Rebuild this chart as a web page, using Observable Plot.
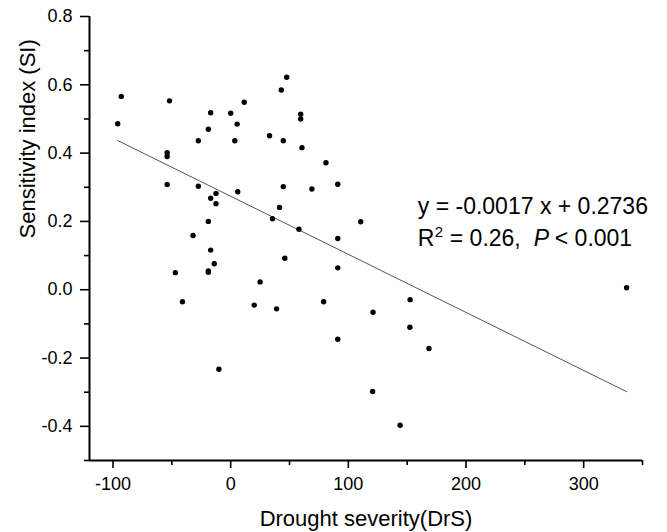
<!DOCTYPE html>
<html><head><meta charset="utf-8">
<script src="https://cdn.jsdelivr.net/npm/d3@7"></script>
<script src="https://cdn.jsdelivr.net/npm/@observablehq/plot@0.6"></script>
<style>body{margin:0;background:#fff}</style>
</head><body><div id="chart"></div>
<script>
const drs = [-96,-93,-52,-54,-54,-54,-47,-41,-32,-27.5,-27.5,-19,-17,-12.5,-17,-12.5,-19,-17,-14,-19,-19,-10,
  0,3.5,5.5,6,11.5,20,25,33,35.5,39,41.5,43,44.7,44.7,46,47.6,58,59.5,59.5,60.6,69,79,81,
  91,91,91,91,110.5,121,120.6,144,152.5,152.3,168.5,336.5];
const si = [0.486,0.566,0.553,0.401,0.390,0.308,0.050,-0.035,0.159,0.436,0.303,0.470,0.518,0.282,0.268,0.252,0.200,0.116,0.076,0.055,0.051,-0.233,
  0.517,0.436,0.485,0.287,0.549,-0.045,0.023,0.451,0.208,-0.056,0.241,0.585,0.436,0.302,0.092,0.622,0.177,0.514,0.500,0.416,0.295,-0.035,0.372,
  0.309,0.150,0.064,-0.145,0.199,-0.066,-0.298,-0.397,-0.029,-0.110,-0.172,0.006];
const slope = -0.0017, intercept = 0.2736;
const xMajor = [-100, 0, 100, 200, 300];
const xMinor = [-50, 50, 150, 250, 350];
const yMajor = [-0.4, -0.2, 0.0, 0.2, 0.4, 0.6, 0.8];
const yMinor = [-0.5, -0.3, -0.1, 0.1, 0.3, 0.5, 0.7];
const xLabel = "Drought severity(DrS)";
const yLabel = "Sensitivity index (SI)";
const eqText = "y = -0.0017 x + 0.2736";

const points = drs.map((x, i) => ({x, y: si[i]}));
const xMin = d3.min(drs), xMax = d3.max(drs);
const fit = [xMin, xMax].map(x => ({x, y: slope * x + intercept}));
const font = "'Liberation Sans', Arial, sans-serif";
const annX = 159, annY1 = 0.222, annY2 = 0.1287;
const ann = (txt, dx, extra = {}) => Plot.text([txt], {x: annX, y: annY2, dx, text: d => d, textAnchor: "start", lineAnchor: "bottom", fontSize: 23, fill: "#000", ...extra});

const chart = Plot.plot({
  width: 667, height: 532,
  marginLeft: 89, marginRight: 25, marginTop: 16, marginBottom: 72,
  style: {fontFamily: font, background: "#fff", color: "#000"},
  x: {domain: [-120, 350]},
  y: {domain: [-0.5, 0.8]},
  marks: [
    Plot.axisX({ticks: xMajor, tickSize: 8, tickPadding: 9, fontSize: 18, strokeWidth: 1.6, tickFormat: d => String(d), label: null}),
    Plot.axisX({ticks: xMinor, tickSize: 5, strokeWidth: 1.6, tickFormat: () => "", label: null}),
    Plot.axisY({ticks: yMajor, tickSize: 9, tickPadding: 8, fontSize: 18, strokeWidth: 1.6, tickFormat: d => d.toFixed(1), label: null}),
    Plot.axisY({ticks: yMinor, tickSize: 5, strokeWidth: 1.6, tickFormat: () => "", label: null}),
    Plot.ruleX([-120], {stroke: "#000", strokeWidth: 2}),
    Plot.ruleY([-0.5], {stroke: "#000", strokeWidth: 2}),
    Plot.line(fit, {x: "x", y: "y", stroke: "#555", strokeWidth: 1}),
    Plot.dot(points, {x: "x", y: "y", r: 2.7, fill: "#000", stroke: null}),
    Plot.text([eqText], {x: annX, y: annY1, text: d => d, textAnchor: "start", lineAnchor: "bottom", fontSize: 23, fill: "#000"}),
    ann("R", 0),
    ann("2", 17, {fontSize: 15, dy: -9}),
    ann("= 0.26,", 32),
    ann("P", 116, {fontStyle: "italic"}),
    ann("< 0.001", 137),
    Plot.text([xLabel], {frameAnchor: "bottom", dy: 65, lineAnchor: "bottom", text: d => d, fontSize: 22, fill: "#000"}),
    Plot.text([yLabel], {frameAnchor: "left", dx: -62, rotate: -90, text: d => d, fontSize: 22, fill: "#000"})
  ]
});
document.getElementById("chart").appendChild(chart);
</script>
</body></html>
